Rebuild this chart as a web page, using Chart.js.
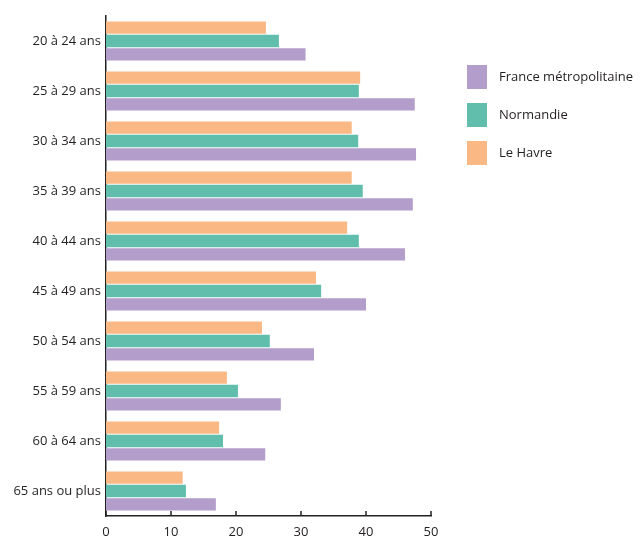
<!DOCTYPE html>
<html>
<head>
<meta charset="utf-8">
<script src="https://cdn.jsdelivr.net/npm/chart.js@4/dist/chart.umd.min.js"></script>
<style>
  html, body { margin: 0; padding: 0; background: #fff; }
  #wrap { width: 643px; height: 538px; }
</style>
</head>
<body>
<div id="wrap"><canvas id="chart"></canvas></div>
<script>
const ageGroups = ['20 à 24 ans', '25 à 29 ans', '30 à 34 ans', '35 à 39 ans', '40 à 44 ans',
  '45 à 49 ans', '50 à 54 ans', '55 à 59 ans', '60 à 64 ans', '65 ans ou plus'];
const leHavre = [24.6, 39.1, 37.8, 37.8, 37.1, 32.3, 24.0, 18.6, 17.4, 11.8];
const normandie = [26.6, 38.9, 38.8, 39.5, 38.9, 33.1, 25.2, 20.3, 18.0, 12.3];
const france = [30.7, 47.5, 47.7, 47.2, 46.0, 40.0, 32.0, 26.9, 24.5, 16.9];
const xTicks = [0, 10, 20, 30, 40, 50];

const FONT = { family: '"Open Sans", sans-serif', size: 13 };
const TEXT = '#231f20';

// short tick marks pointing up from the x axis, and the legend on the right
const extras = {
  id: 'extras',
  afterDraw(chart) {
    let ctx = chart.ctx;
    let x = chart.scales.x;
    let area = chart.chartArea;
    ctx.save();
    ctx.strokeStyle = '#222';
    ctx.lineWidth = 1.5;
    for (let t of xTicks) {
      let px = x.getPixelForValue(t);
      ctx.beginPath();
      ctx.moveTo(px, area.bottom);
      ctx.lineTo(px, area.bottom - 5);
      ctx.stroke();
    }

    // legend, purple first
    let items = chart.data.datasets.slice().reverse();
    ctx.font = `${FONT.size}px ${FONT.family}`;
    ctx.textBaseline = 'middle';
    ctx.textAlign = 'left';
    items.forEach((ds, i) => {
      let cy = 77 + i * 38;
      ctx.fillStyle = ds.backgroundColor;
      ctx.fillRect(area.right + 36, cy - 12, 20, 24);
      ctx.fillStyle = TEXT;
      ctx.fillText(ds.label, area.right + 68, cy);
    });
    ctx.restore();
  }
};

new Chart(document.getElementById('chart'), {
  type: 'bar',
  data: {
    labels: ageGroups,
    datasets: [
      { label: 'Le Havre', data: leHavre, backgroundColor: '#f9b884' },
      { label: 'Normandie', data: normandie, backgroundColor: '#61bead' },
      { label: 'France métropolitaine', data: france, backgroundColor: '#b39ecb' }
    ]
  },
  options: {
    indexAxis: 'y',
    responsive: true,
    maintainAspectRatio: false,
    animation: false,
    layout: { padding: { top: 16, right: 212, left: 0, bottom: 0 } },
    datasets: {
      bar: { categoryPercentage: 0.8, barPercentage: 0.93 }
    },
    scales: {
      x: {
        min: 0,
        max: 50,
        afterBuildTicks: (scale) => { scale.ticks = xTicks.map(v => ({ value: v })); },
        afterFit: (scale) => { scale.height = 22; },
        grid: { display: false, drawTicks: false },
        border: { display: true, color: '#222', width: 1.5 },
        ticks: { color: TEXT, font: FONT, padding: 8, maxRotation: 0 }
      },
      y: {
        afterFit: (scale) => { scale.width = 106; },
        grid: { display: false, drawTicks: false },
        border: { display: true, color: '#222', width: 1.5 },
        ticks: { color: TEXT, font: FONT, padding: 5 }
      }
    },
    plugins: {
      legend: { display: false },
      tooltip: { enabled: false }
    }
  },
  plugins: [extras]
});
</script>
</body>
</html>
